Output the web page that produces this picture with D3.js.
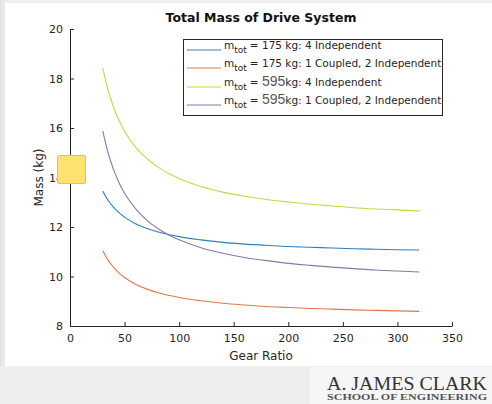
<!DOCTYPE html>
<html><head><meta charset="utf-8">
<script src="https://cdn.jsdelivr.net/npm/d3@7"></script>
<style>body{margin:0;background:#eeeeee;}svg{display:block;}</style>
</head><body>
<script>
const gearRatios = [30,35,40,45,50,60,70,80,90,100,120,140,160,180,200,220,240,260,280,300,320];
const blue175Indep   = [13.45,13.07,12.79,12.57,12.40,12.13,11.95,11.81,11.70,11.61,11.48,11.38,11.31,11.26,11.21,11.18,11.15,11.12,11.10,11.08,11.07];
const orange175Coupled = [11.04,10.65,10.37,10.14,9.96,9.69,9.50,9.35,9.24,9.15,9.02,8.92,8.85,8.79,8.75,8.71,8.68,8.65,8.63,8.61,8.59];
const yellow595Indep = [18.42,17.51,16.83,16.29,15.87,15.23,14.78,14.44,14.17,13.96,13.64,13.41,13.24,13.11,13.01,12.92,12.85,12.78,12.73,12.69,12.65];
const purple595Coupled = [15.88,14.98,14.31,13.78,13.36,12.74,12.29,11.95,11.69,11.48,11.16,10.94,10.77,10.64,10.53,10.45,10.38,10.32,10.26,10.22,10.18];
const seriesNames = ["175 kg: 4 Independent","175 kg: 1 Coupled, 2 Independent","kg: 4 Independent","kg: 1 Coupled, 2 Independent"];
const seriesPrefix = ["= 175 kg: 4 Independent","= 175 kg: 1 Coupled, 2 Independent","= ","= "];
const xTicks = [0,50,100,150,200,250,300,350];
const yTicks = [8,10,12,14,16,18,20];
const colors = ["#2f7fbf","#e0784a","#cbd63a","#8a78a8"];
const allSeries = [blue175Indep, orange175Coupled, yellow595Indep, purple595Coupled];

const W = 492, H = 404;
const svg = d3.select("body").append("svg").attr("width", W).attr("height", H);

// backgrounds
const defs = svg.append("defs");
const lg = defs.append("linearGradient").attr("id","lg").attr("x1","0").attr("x2","1");
lg.append("stop").attr("offset","0").attr("stop-color","#dfe3e7");
lg.append("stop").attr("offset","1").attr("stop-color","#eceeef");
svg.append("rect").attr("width",W).attr("height",H).attr("fill","#eeeeee");
svg.append("rect").attr("width",6).attr("height",366).attr("fill","url(#lg)");
svg.append("rect").attr("x",5).attr("y",3).attr("width",W-5).attr("height",363).attr("fill","#ffffff");
svg.append("rect").attr("x",310).attr("y",367).attr("width",182).attr("height",37).attr("fill","#f6f6f6");

const m = {l:70, r:452, t:29, b:326};
const x = d3.scaleLinear().domain([0,350]).range([m.l, m.r]);
const y = d3.scaleLinear().domain([8,20]).range([m.b, m.t]);

const axisCol = "#262626";
const gx = svg.append("g").attr("transform",`translate(0,${m.b})`)
  .call(d3.axisBottom(x).tickValues(xTicks).tickSizeInner(-4).tickSizeOuter(0).tickPadding(8));
const gy = svg.append("g").attr("transform",`translate(${m.l},0)`)
  .call(d3.axisLeft(y).tickValues(yTicks).tickSizeInner(-4).tickSizeOuter(0).tickPadding(7));
[gx,gy].forEach(g=>{
  g.select(".domain").attr("stroke",axisCol).attr("stroke-width",1);
  g.selectAll(".tick line").attr("stroke",axisCol);
  g.selectAll(".tick text").attr("fill",axisCol).attr("font-family","DejaVu Sans").attr("font-size",11);
});

// lines
const line = d3.line().x((d,i)=>x(gearRatios[i])).y(d=>y(d)).curve(d3.curveMonotoneX);
allSeries.forEach((s,i)=>{
  svg.append("path").datum(s).attr("d",line).attr("fill","none")
    .attr("stroke",colors[i]).attr("stroke-width",1.1);
});

// title and labels
svg.append("text").attr("x",(m.l+m.r)/2).attr("y",22).attr("text-anchor","middle")
  .attr("font-family","DejaVu Sans").attr("font-weight","bold").attr("font-size",12.5)
  .attr("fill","#111").text("Total Mass of Drive System");
svg.append("text").attr("x",(m.l+m.r)/2).attr("y",360).attr("text-anchor","middle")
  .attr("font-family","DejaVu Sans").attr("font-size",12).attr("fill",axisCol).text("Gear Ratio");
svg.append("text").attr("transform",`translate(43,${(m.t+m.b)/2}) rotate(-90)`).attr("text-anchor","middle")
  .attr("font-family","DejaVu Sans").attr("font-size",12).attr("fill",axisCol).text("Mass (kg)");

// legend
const leg = svg.append("g");
leg.append("rect").attr("x",183.5).attr("y",39.5).attr("width",259).attr("height",76)
  .attr("fill","#fff").attr("stroke","#262626").attr("stroke-width",1);
const rowY = [50,68,87,105];
seriesNames.forEach((nm,i)=>{
  leg.append("line").attr("x1",187).attr("x2",221).attr("y1",rowY[i]).attr("y2",rowY[i])
    .attr("stroke",colors[i]).attr("stroke-width",1.1);
  const t = leg.append("text").attr("x",224).attr("y",rowY[i]-1).attr("font-family","DejaVu Sans")
    .attr("font-size",10.5).attr("fill",axisCol);
  t.append("tspan").text("m");
  t.append("tspan").attr("dy",4).attr("font-size",9).text("tot");
  if (i<2) {
    t.append("tspan").attr("dy",-4).attr("dx",3).text(seriesPrefix[i]);
  } else {
    t.append("tspan").attr("dy",-4).attr("dx",3).text("= ");
    t.append("tspan").attr("font-family","Liberation Sans").attr("font-size",14).attr("fill","#555").text("595");
    t.append("tspan").text(nm);
  }
});

// yellow sticky square
svg.append("rect").attr("x",57.5).attr("y",155.5).attr("width",28).attr("height",28).attr("rx",1.5)
  .attr("fill","#ffe270").attr("stroke","#e8c24a").attr("stroke-width",1);

// logo
svg.append("text").attr("x",407).attr("y",390).attr("text-anchor","middle")
  .attr("font-family","Liberation Serif").attr("font-size",19).attr("fill","#333")
  .attr("textLength",160).attr("lengthAdjust","spacingAndGlyphs").text("A. JAMES CLARK");
svg.append("text").attr("x",407).attr("y",399.5).attr("text-anchor","middle")
  .attr("font-family","Liberation Serif").attr("font-size",8).attr("font-weight","bold").attr("fill","#555")
  .attr("textLength",160).attr("lengthAdjust","spacingAndGlyphs").text("SCHOOL OF ENGINEERING");
</script>
</body></html>
